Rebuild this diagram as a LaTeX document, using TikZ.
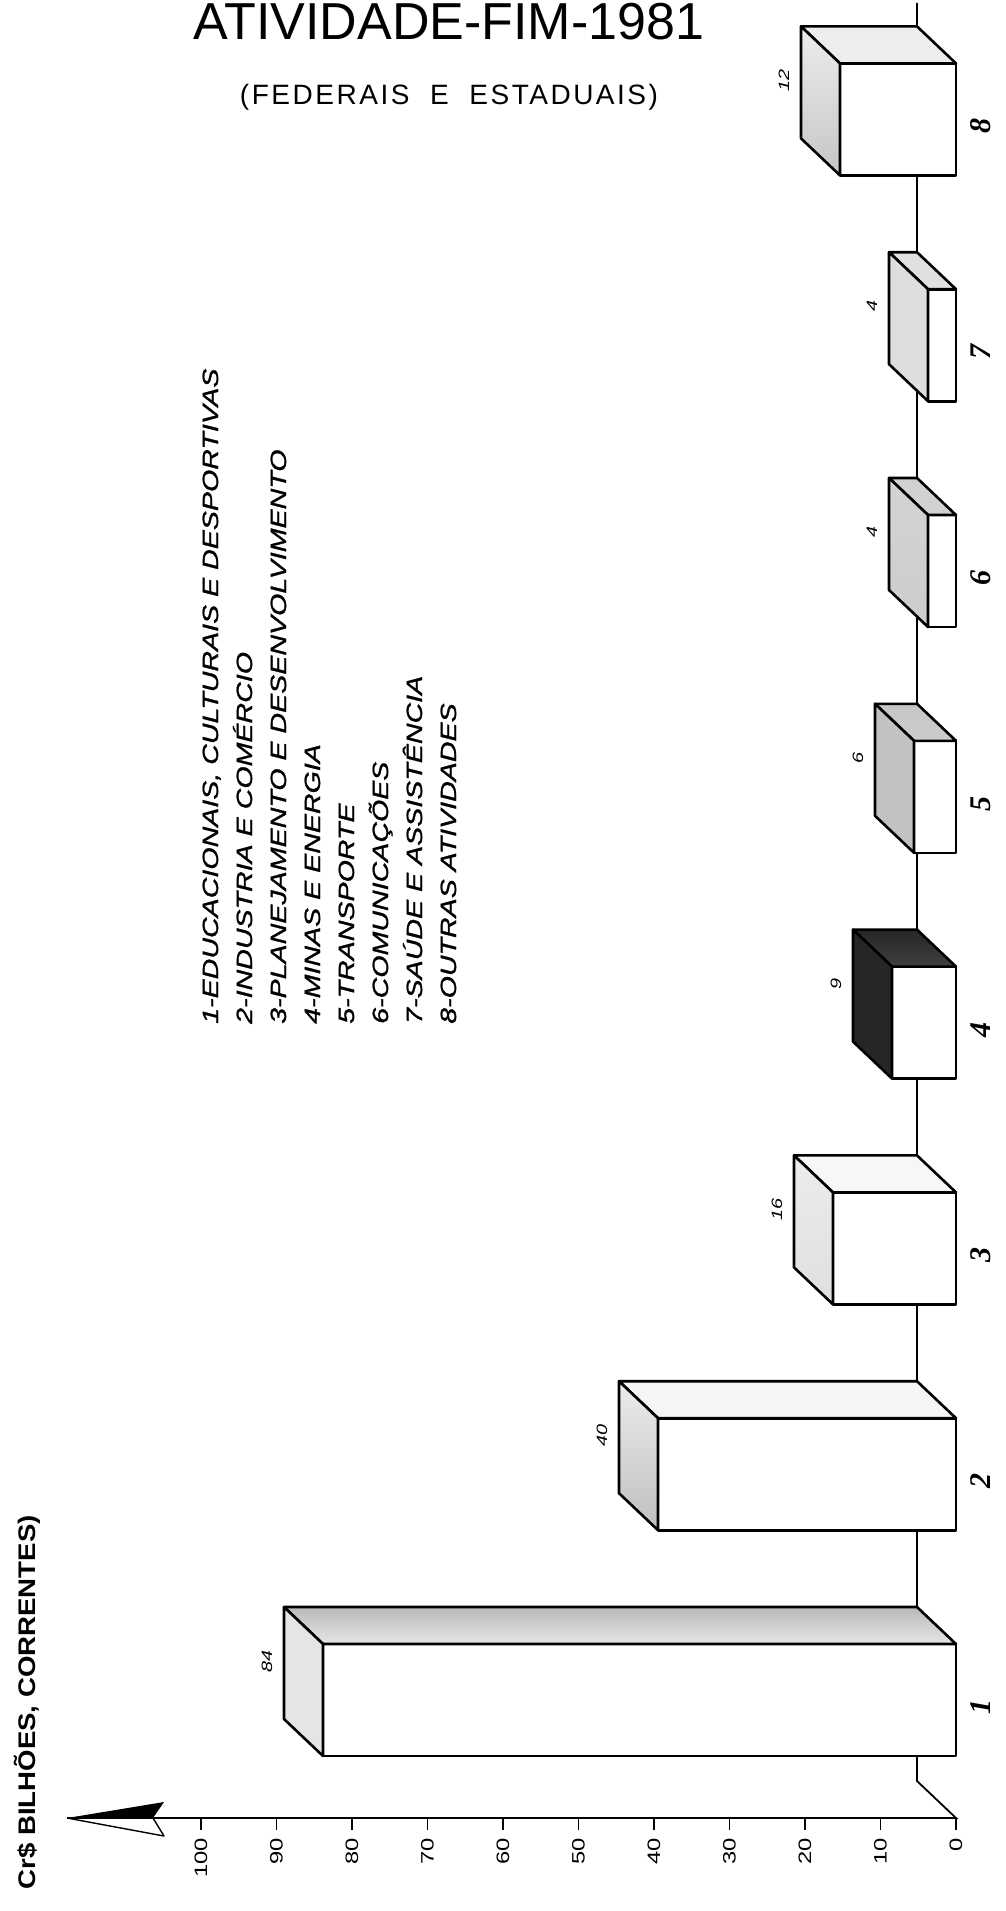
\documentclass[tikz,border=0pt]{standalone}
\usepackage{fontspec}
\setmainfont{Liberation Sans}
\newfontfamily\largafont[FakeStretch=1.32]{Liberation Sans}
\newfontfamily\legendafont[FakeStretch=1.3,FakeBold=1.2]{Liberation Sans}
\newfontfamily\eixofont[FakeStretch=1.15]{Liberation Sans}
\newfontfamily\espacofont[LetterSpace=9]{Liberation Sans}
\newfontfamily\serifafont{Liberation Serif}
\begin{document}
\begin{tikzpicture}[x=1pt,y=-1pt,
	face/.style={draw,line width=2.6pt,line join=round},
	eixo/.style={line width=1.8pt},
	ticklab/.style={rotate=90,anchor=east,inner sep=0pt,font=\largafont\fontsize{18}{18}\selectfont},
	legenda/.style={rotate=90,anchor=base west,inner sep=0pt,font=\legendafont\itshape\fontsize{22}{22}\selectfont},
	valor/.style={rotate=90,inner sep=0pt,font=\largafont\itshape\fontsize{15}{15}\selectfont},
	categoria/.style={rotate=90,inner sep=0pt,font=\serifafont\bfseries\itshape\fontsize{30}{30}\selectfont}]
	\useasboundingbox (0,0) rectangle (1005,1911);
	%标题
	\node (titulo) at (449,40) [anchor=base,inner sep=0pt,font=\fontsize{52}{52}\selectfont] {ATIVIDADE-FIM-1981};
	\node (subtitulo) at (449,104) [anchor=base,inner sep=0pt,font=\espacofont\fontsize{28}{28}\selectfont] {(FEDERAIS\ \ E\ \ ESTADUAIS)};
	\node (eixoy) at (35,1515) [rotate=90,anchor=base east,inner sep=0pt,font=\eixofont\bfseries\fontsize{24}{24}\selectfont] {Cr\$ BILHÕES, CORRENTES)};
	%坐标轴
	\coordinate (O) at (956,1818);
	\coordinate (P) at (917,1781);
	\coordinate (Q) at (917,3);
	\coordinate (T) at (67,1818);
	\coordinate (N) at (153,1818);
	\draw [eixo] (Q) -- (P) -- (O) -- (T);
	\fill (T) -- (164,1802) -- (N) -- cycle;
	\draw [line width=1.4pt,line join=round] (T) -- (164,1836) -- (N);
	\foreach \val in {0,10,...,100}
	{
		\draw [eixo] ({956-7.55*\val},1818) -- ({956-7.55*\val},1830)
		node[ticklab] (t\val) at ({956-7.55*\val},1837) {\val};
	}
	%柱
	\foreach \i/\xe/\val/\ladoa/\ladob/\topoa/\topob in {1/323/84/gray!20/gray!20/gray!55/gray!20,2/658/40/gray!15/gray!50/gray!8/gray!8,3/833/16/gray!15/gray!25/gray!6/gray!6,4/892/9/black!85/black!85/black!85/black!75,5/914/6/gray!48/gray!48/gray!45/gray!40,6/928/4/gray!34/gray!40/gray!36/gray!36,7/928/4/gray!26/gray!26/gray!24/gray!24,8/840/12/gray!15/gray!45/gray!14/gray!14}
	{
		\pgfmathsetmacro{\yc}{1700-225.8*(\i-1)}
		\coordinate (a\i) at (\xe,{\yc-56});
		\coordinate (b\i) at (956,{\yc-56});
		\coordinate (c\i) at (956,{\yc+56});
		\coordinate (d\i) at (\xe,{\yc+56});
		\coordinate (e\i) at ({\xe-39},{\yc-93});
		\coordinate (f\i) at (917,{\yc-93});
		\coordinate (g\i) at ({\xe-39},{\yc+19});
		\filldraw [face,fill=white] (a\i) rectangle (c\i);
		\draw [face,top color=\topoa,bottom color=\topob] (a\i) -- (b\i) -- (f\i) -- (e\i) -- cycle;
		\draw [face,top color=\ladoa,bottom color=\ladob] (a\i) -- (e\i) -- (g\i) -- (d\i) -- cycle;
		\node[categoria] (n\i) at (981,{\yc+7}) {\i};
		\node[valor] (v\i) at ({\xe-56},{\yc-39}) {\val};
	}
	%图例
	\foreach \i/\texto in {1/{1-EDUCACIONAIS, CULTURAIS E DESPORTIVAS},2/{2-INDUSTRIA E COMÉRCIO},3/{3-PLANEJAMENTO E DESENVOLVIMENTO},4/{4-MINAS E ENERGIA},5/{5-TRANSPORTE},6/{6-COMUNICAÇÕES},7/{7-SAÚDE E ASSISTÊNCIA},8/{8-OUTRAS ATIVIDADES}}
	{
		\node[legenda] (L\i) at ({218+34*(\i-1)},1024) {\texto};
	}
\end{tikzpicture}
\end{document}
